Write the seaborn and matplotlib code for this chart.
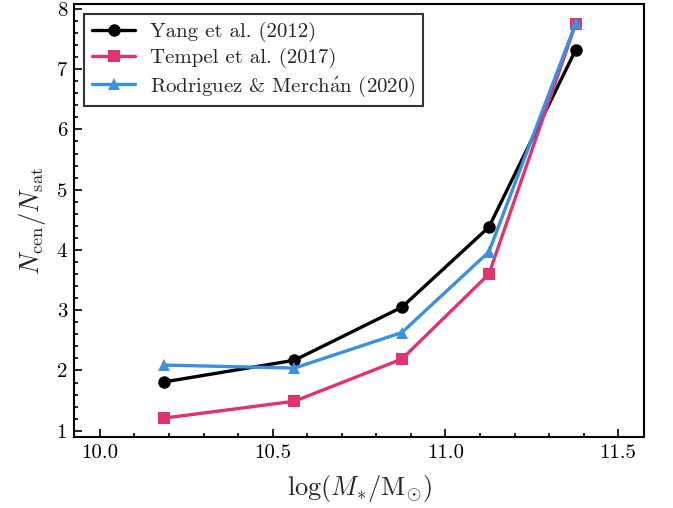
import numpy as np
import pandas as pd
import matplotlib
matplotlib.use("Agg")
import matplotlib.pyplot as plt
import seaborn as sns
from matplotlib.ticker import MultipleLocator, FormatStrFormatter

# Stellar-mass bins and central/satellite ratios per group catalogue
log_mass = [10.186, 10.563, 10.874, 11.126, 11.377]
yang = [1.81, 2.17, 3.05, 4.38, 7.32]
tempel = [1.21, 1.49, 2.19, 3.60, 7.75]
rodriguez = [2.09, 2.04, 2.63, 3.97, 7.76]

labels = ["Yang et al. (2012)", "Tempel et al. (2017)",
          r"Rodriguez & Merch$\acute{\mathrm{a}}$n (2020)"]
colors = ["#000000", "#DF3470", "#3C90E0"]
markers = ["o", "s", "^"]

df = pd.DataFrame({
    "x": log_mass * 3,
    "y": yang + tempel + rodriguez,
    "catalogue": [labels[0]] * 5 + [labels[1]] * 5 + [labels[2]] * 5,
})

sns.set_style("ticks")
plt.rcParams.update({
    "font.family": "serif",
    "font.serif": ["cmr10"],
    "mathtext.fontset": "cm",
    "axes.formatter.use_mathtext": True,
    "axes.unicode_minus": False,
    "axes.linewidth": 1.5,
    "axes.edgecolor": "black",
})

fig = plt.figure(figsize=(6.73, 5.08), dpi=100)
ax = fig.add_axes([0.110, 0.139, 0.847, 0.853])

sns.lineplot(data=df, x="x", y="y", hue="catalogue", style="catalogue",
             hue_order=labels, style_order=labels,
             palette=colors, markers=markers, dashes=False,
             linewidth=2.4, markersize=9, markeredgewidth=0,
             ax=ax)

ax.set_xlim(9.925, 11.575)
ax.set_ylim(0.89, 8.08)
ax.xaxis.set_major_locator(MultipleLocator(0.5))
ax.xaxis.set_minor_locator(MultipleLocator(0.1))
ax.yaxis.set_major_locator(MultipleLocator(1))
ax.yaxis.set_minor_locator(MultipleLocator(0.2))
ax.tick_params(which="both", direction="in", top=False, right=False,
               labelsize=15, width=1.2, colors="black")
ax.tick_params(which="major", length=6, pad=5)
ax.tick_params(which="minor", length=3)
ax.xaxis.set_major_formatter(FormatStrFormatter("%.1f"))
ax.yaxis.set_major_formatter(FormatStrFormatter("%d"))

ax.set_xlabel(r"$\log(M_{*}/\mathrm{M}_{\odot})$", fontsize=19, labelpad=8)
ax.set_ylabel(r"$N_{\mathrm{cen}}/N_{\mathrm{sat}}$", fontsize=19, labelpad=6)

leg = ax.legend(loc="upper left", fontsize=15, frameon=True, fancybox=False,
                edgecolor="#333333", framealpha=1, handlelength=2.1,
                borderpad=0.35, labelspacing=0.3, handletextpad=0.7,
                title=None)
leg.get_frame().set_linewidth(1.5)

fig.savefig("out.png", dpi=100)
